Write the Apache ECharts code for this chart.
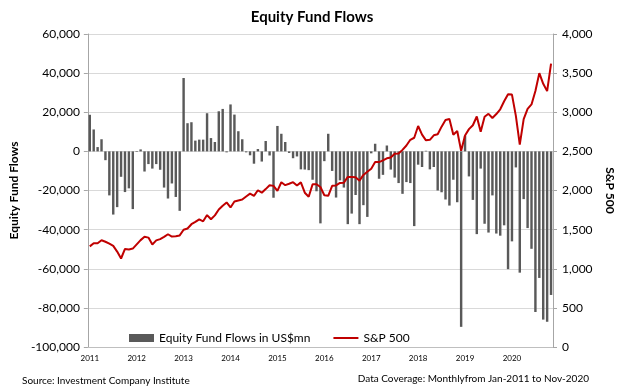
<!DOCTYPE html>
<html>
<head>
<meta charset="utf-8">
<script src="https://cdn.jsdelivr.net/npm/echarts@6/dist/echarts.min.js"></script>
<style>
html,body{margin:0;padding:0;background:#fff;}
#c{width:624px;height:389px;}
</style>
</head>
<body>
<div id="c"></div>
<script>
// Years and months for the category axis (Jan-2011 .. Nov-2020)
const years = [2011, 2012, 2013, 2014, 2015, 2016, 2017, 2018, 2019, 2020];
const monthNames = ['Jan','Feb','Mar','Apr','May','Jun','Jul','Aug','Sep','Oct','Nov','Dec'];
const lastMonthCount = 11; // data ends Nov-2020

// Equity fund flows, US$mn (monthly)
const flows2011 = [18700, 11200, 2200, 6200, -4500, -22500, -32300, -28500, -13000, -20800, -18900, -29500];
const flows2012 = [-300, 1000, -10300, -6500, -8800, -6500, -9400, -18500, -24100, -16400, -23300, -30400];
const flows2013 = [37500, 14400, 14900, 5500, 6000, 6000, 19500, 6800, 4800, 20500, 21700, -500];
const flows2014 = [24000, 18800, 10300, 6200, -500, -2000, -6300, 1200, -5200, 5300, -2100, -23700];
const flows2015 = [13000, 9000, 4800, -800, -3500, -2600, -9200, -9300, -9600, -14500, -20400, -36800];
const flows2016 = [-5000, 9000, -10000, -23600, -14800, -18500, -37200, -31800, -22300, -37200, -27500, -33500];
const flows2017 = [-1000, 3900, -14000, -12000, 3000, -9300, -13400, -16200, -21700, -15700, -16200, -38200];
const flows2018 = [-6800, -8000, 300, -9200, -8000, -20000, -20900, -24600, -27700, -14500, -26000, -89700];
const flows2019 = [8000, -12800, -24800, -42300, -8800, -37000, -41500, -22500, -42000, -43100, -37800, -60200];
const flows2020 = [-46000, -8200, -62000, -24400, -39200, -49800, -82100, -64700, -86000, -87100, -73400];

// S&P 500 index level (month end)
const spx2011 = [1286, 1327, 1326, 1364, 1345, 1321, 1292, 1219, 1131, 1253, 1247, 1258];
const spx2012 = [1312, 1366, 1408, 1398, 1310, 1362, 1379, 1407, 1441, 1412, 1416, 1426];
const spx2013 = [1498, 1515, 1569, 1598, 1631, 1606, 1686, 1633, 1682, 1757, 1806, 1848];
const spx2014 = [1783, 1859, 1872, 1884, 1924, 1960, 1931, 2003, 1972, 2018, 2068, 2059];
const spx2015 = [1995, 2105, 2068, 2086, 2107, 2063, 2104, 1972, 1920, 2079, 2080, 2044];
const spx2016 = [1940, 1932, 2060, 2065, 2097, 2099, 2174, 2171, 2168, 2126, 2199, 2239];
const spx2017 = [2279, 2364, 2363, 2384, 2412, 2423, 2470, 2472, 2519, 2575, 2648, 2674];
const spx2018 = [2824, 2714, 2641, 2648, 2705, 2718, 2816, 2902, 2914, 2712, 2760, 2507];
const spx2019 = [2704, 2784, 2834, 2946, 2752, 2942, 2980, 2926, 2977, 3038, 3141, 3231];
const spx2020 = [3226, 2954, 2585, 2912, 3044, 3100, 3271, 3500, 3363, 3270, 3622];

// Axis tick settings
const leftMin = -100000, leftMax = 60000, leftStep = 20000;
const rightMin = 0, rightMax = 4000, rightStep = 500;

const flows = [].concat(flows2011, flows2012, flows2013, flows2014, flows2015, flows2016, flows2017, flows2018, flows2019, flows2020);
const spx = [].concat(spx2011, spx2012, spx2013, spx2014, spx2015, spx2016, spx2017, spx2018, spx2019, spx2020);
const categories = [];
years.forEach((y, yi) => {
  const n = yi === years.length - 1 ? lastMonthCount : 12;
  for (let m = 0; m < n; m++) categories.push(monthNames[m] + '-' + y);
});

const FONT = 'Lato, "Open Sans", sans-serif';
const chart = echarts.init(document.getElementById('c'), null, {renderer: 'canvas'});
chart.setOption({
  animation: false,
  backgroundColor: '#ffffff',
  textStyle: {fontFamily: FONT},
  title: [
    {text: 'Equity Fund Flows', left: 'center', top: 5,
     textStyle: {fontFamily: FONT, fontSize: 15, fontWeight: 'bold', color: '#000'}},
    {text: 'Source: Investment Company Institute', left: 17, top: 371,
     textStyle: {fontFamily: FONT, fontSize: 10, fontWeight: 'normal', color: '#000'}},
    {text: 'Data Coverage: Monthlyfrom Jan-2011 to Nov-2020', right: 30, top: 369,
     textStyle: {fontFamily: FONT, fontSize: 10, fontWeight: 'normal', color: '#000'}}
  ],
  legend: {
    left: 124, top: 327,
    itemWidth: 25, itemHeight: 8, itemGap: 22,
    textStyle: {fontFamily: FONT, fontSize: 12, color: '#000'},
    data: [
      {name: 'Equity Fund Flows in US$mn', icon: 'rect'},
      {name: 'S&P 500', itemStyle: {opacity: 0}}
    ]
  },
  grid: {left: 87, right: 71, top: 34, bottom: 42, containLabel: false},
  xAxis: {
    type: 'category',
    data: categories,
    boundaryGap: true,
    axisLine: {onZero: false, lineStyle: {color: '#BFBFBF'}},
    axisTick: {show: false},
    axisLabel: {
      interval: 11, margin: 7, fontSize: 8, color: '#000', fontFamily: FONT,
      formatter: v => v.split('-')[1]
    },
    splitLine: {show: false}
  },
  yAxis: [
    {
      type: 'value', min: leftMin, max: leftMax, interval: leftStep,
      name: 'Equity Fund Flows', nameLocation: 'middle', nameGap: 54, nameRotate: 90,
      nameTextStyle: {fontFamily: FONT, fontSize: 12, fontWeight: 'bold', color: '#000'},
      axisLine: {show: true, lineStyle: {color: '#A6A6A6'}},
      axisTick: {show: true, length: 4, lineStyle: {color: '#A6A6A6'}},
      axisLabel: {fontSize: 12, color: '#000', margin: 8, fontFamily: FONT,
        formatter: v => v.toLocaleString('en-US')},
      splitLine: {show: true, lineStyle: {color: '#D9D9D9', width: 1}}
    },
    {
      type: 'value', min: rightMin, max: rightMax, interval: rightStep,
      name: 'S&P 500', nameLocation: 'middle', nameGap: 47, nameRotate: -90,
      nameTextStyle: {fontFamily: FONT, fontSize: 12, fontWeight: 'bold', color: '#000'},
      axisLine: {show: true, lineStyle: {color: '#A6A6A6'}},
      axisTick: {show: true, length: 4, lineStyle: {color: '#A6A6A6'}},
      axisLabel: {fontSize: 12, color: '#000', margin: 9, fontFamily: FONT,
        formatter: v => v.toLocaleString('en-US')},
      splitLine: {show: false}
    }
  ],
  series: [
    {
      name: 'Equity Fund Flows in US$mn', type: 'bar', yAxisIndex: 0,
      data: flows, barWidth: '62%',
      itemStyle: {color: '#595959'}
    },
    {
      name: 'S&P 500', type: 'line', yAxisIndex: 1,
      data: spx, symbol: 'none', smooth: false,
      lineStyle: {color: '#C00000', width: 2},
      itemStyle: {color: '#C00000'}
    }
  ]
});
</script>
</body>
</html>
